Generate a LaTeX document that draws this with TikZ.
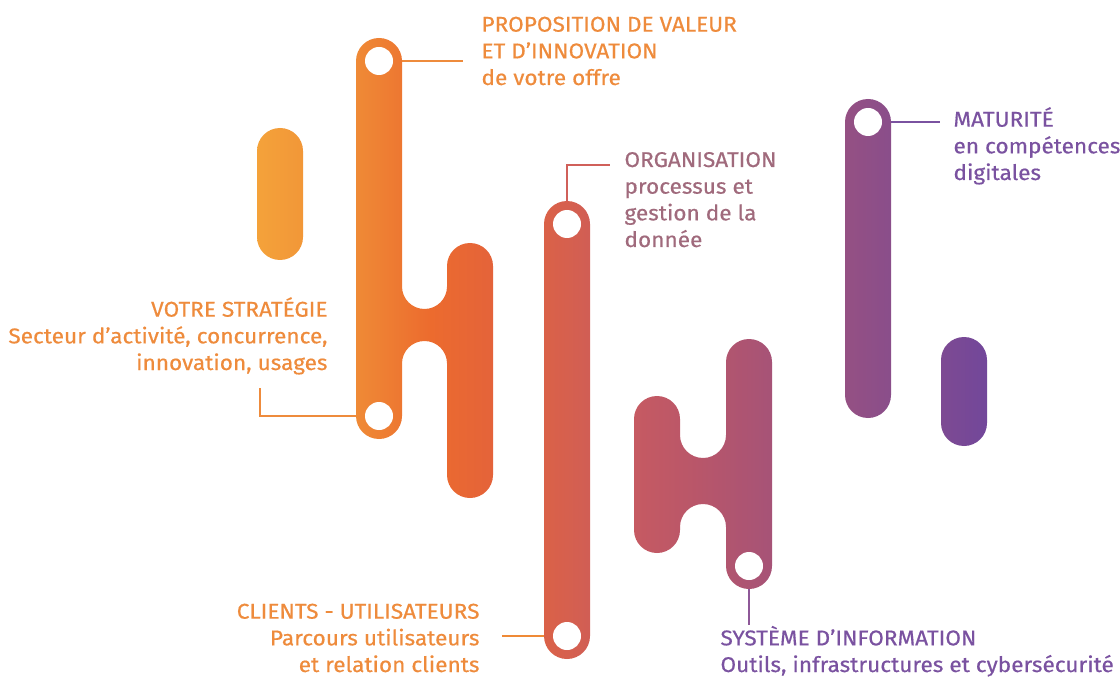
\documentclass[tikz,border=0pt]{standalone}
\usepackage{fontspec}
\setmainfont{Fira Sans}[FakeStretch=1.06,FakeBold=0.5]
\usepackage{tikz}
\usetikzlibrary{backgrounds}
\usepackage{xcolor}
\tikzset{every picture/.style={line width=0.75pt}}

\definecolor{sA}{HTML}{F4A23A}
\definecolor{sB}{HTML}{EF8A36}
\definecolor{sC}{HTML}{EC6B2E}
\definecolor{sD}{HTML}{E4633A}
\definecolor{sE}{HTML}{D6604E}
\definecolor{sF}{HTML}{C65A62}
\definecolor{sG}{HTML}{B8566A}
\definecolor{sH}{HTML}{A65377}
\definecolor{sI}{HTML}{8F4F87}
\definecolor{sJ}{HTML}{72479A}
\definecolor{txtorange}{HTML}{EE8B3C}
\definecolor{txtmauve}{HTML}{A06A7C}
\definecolor{txtpurple}{HTML}{7A52A0}
\definecolor{lnred}{HTML}{D0605A}
\definecolor{lnplum}{HTML}{8E5898}

\pgfdeclarehorizontalshading{pillshade}{100bp}{color(0bp)=(sA); color(25bp)=(sA);
  color(31.8bp)=(sB); color(36.9bp)=(sC); color(41.2bp)=(sD); color(46.2bp)=(sE);
  color(50.8bp)=(sF); color(55.3bp)=(sG); color(60.3bp)=(sH); color(66.9bp)=(sI);
  color(75bp)=(sJ); color(100bp)=(sJ)}

\tikzset{
  hole/.style={circle,fill=white,inner sep=0pt,minimum size=21pt},
  lbl/.style={inner sep=0pt,font=\fontsize{16}{20}\selectfont},
  link/.style={line width=1.5pt}
}

\begin{document}
\begin{tikzpicture}[x=0.75pt,y=0.75pt,yscale=-1,xscale=1]
\useasboundingbox (0,0) rectangle (1120,677);

%Shape: all pills, one shading [id:dp1]
\shade[shading=pillshade]
  % small pill, left
  (257,151) arc (180:360:23) -- (303,237) arc (0:180:23) -- cycle
  % H, orange
  (356,61) arc (180:360:23) -- (402,286.5) arc (180:0:22.5) -- (447,266) arc (180:360:23)
  -- (493,475) arc (0:180:23) -- (447,363.5) arc (0:-180:22.5) -- (402,416) arc (0:180:23) -- cycle
  % long pill, red
  (544,224) arc (180:360:23) -- (590,636) arc (0:180:23) -- cycle
  % H, mauve
  (634,419) arc (180:360:23) -- (680,435) arc (180:0:23) -- (726,362) arc (180:360:23)
  -- (772,566) arc (0:180:23) -- (726,527) arc (0:-180:23) -- (680,530) arc (0:180:23) -- cycle
  % long pill, purple
  (845,122) arc (180:360:23) -- (891,395) arc (0:180:23) -- cycle
  % small pill, right
  (941,360) arc (180:360:23) -- (987,423) arc (0:180:23) -- cycle ;

%Shape: holes
\node [hole] (h1) at (379,61) {};
\node [hole] (h2) at (379,416) {};
\node [hole] (h3) at (567,224) {};
\node [hole] (h4) at (567,636) {};
\node [hole] (h5) at (749,566) {};
\node [hole] (h6) at (868,122) {};

% Text Node (anchored on the baseline of the last line)
\draw (481,85) node [anchor=base west][lbl][align=left][text=txtorange] (prop) {PROPOSITION DE VALEUR\\ET D’INNOVATION\\de votre offre};
% Text Node
\draw (328,370) node [anchor=base east][lbl][align=right][text=txtorange] (strat) {VOTRE STRATÉGIE\\Secteur d’activité, concurrence,\\innovation, usages};
% Text Node
\draw (624,247) node [anchor=base west][lbl][align=left][text=txtmauve] (orga) {ORGANISATION\\processus et\\gestion de la\\donnée};
% Text Node
\draw (480,672) node [anchor=base east][lbl][align=right][text=txtorange] (clients) {CLIENTS - UTILISATEURS\\Parcours utilisateurs\\et relation clients};
% Text Node
\draw (953,180) node [anchor=base west][lbl][align=left][text=txtpurple] (matu) {MATURITÉ\\en compétences\\digitales};
% Text Node
\draw (720,672) node [anchor=base west][lbl][align=left][text=txtpurple] (sysinfo) {SYSTÈME D’INFORMATION\\Outils, infrastructures et cybersécurité};

% connector ends
\coordinate (c1) at (463,61);
\coordinate (c2) at (260,388);
\coordinate (c3) at (610,165);
\coordinate (c4) at (502,636);
\coordinate (c5) at (749,625);
\coordinate (c6) at (940,122);

\begin{scope}[on background layer]
\draw [link,color=txtorange] (h1) -- (c1);
\draw [link,color=txtorange] (h2) -| (c2);
\draw [link,color=lnred] (h3) |- (c3);
\draw [link,color=sB] (h4) -- (c4);
\draw [link,color=lnplum] (h5) -- (c5);
\draw [link,color=txtpurple] (h6) -- (c6);
\end{scope}

\end{tikzpicture}
\end{document}
